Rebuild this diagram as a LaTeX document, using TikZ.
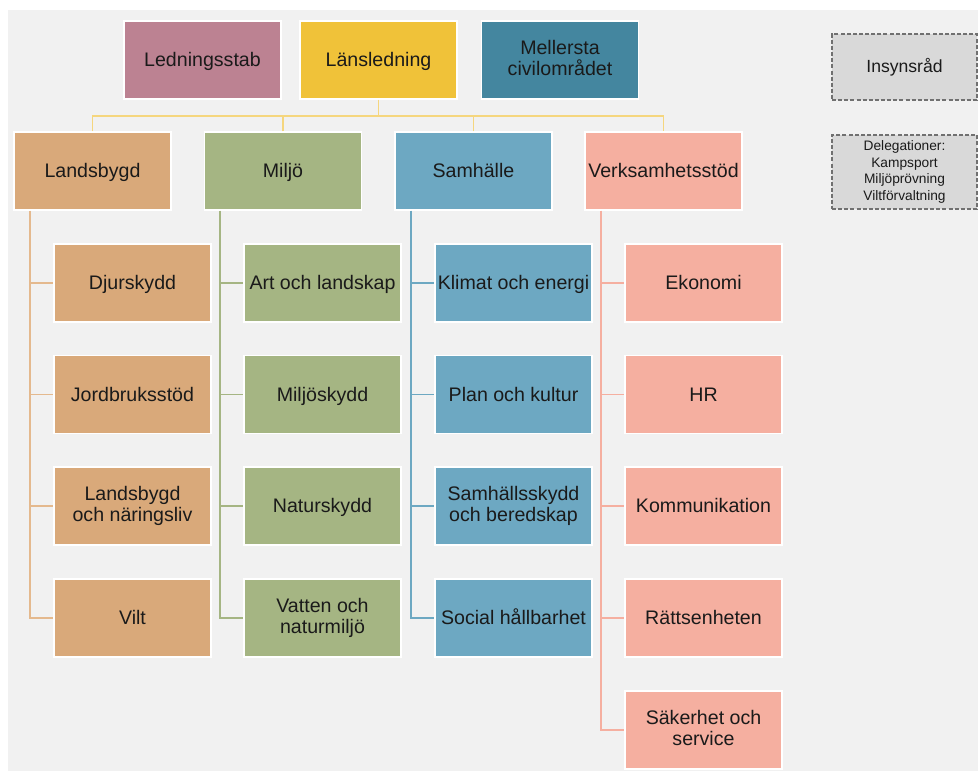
\documentclass[tikz,border=0pt]{standalone}
\usepackage{fontspec}
\setmainfont{Liberation Sans}
\definecolor{bg}{HTML}{F1F1F1}
\definecolor{cled}{HTML}{BC8292}
\definecolor{clans}{HTML}{F0C239}
\definecolor{cmel}{HTML}{44869F}
\definecolor{cland}{HTML}{D9A97A}
\definecolor{cmil}{HTML}{A5B583}
\definecolor{csam}{HTML}{6DA8C2}
\definecolor{cverk}{HTML}{F5AFA0}
\definecolor{ctop}{HTML}{F5D67E}
\definecolor{clandl}{HTML}{E4B98E}
\definecolor{cdash}{HTML}{D9D9D9}
\definecolor{cdashb}{HTML}{707070}
\definecolor{ctext}{HTML}{1A1A1A}
\newcommand\topstrut{\rule{0pt}{13.2pt}}
\newcommand\toptwostrut{\rule{0pt}{16.2pt}}
\newcommand\botstrut{\rule[-3.1pt]{0pt}{3.1pt}}
\newcommand\delstrut{\rule{0pt}{12.5pt}}
\begin{document}
\begin{tikzpicture}[x=0.75pt,y=-0.75pt,
  box/.style={draw=white,line width=1.1pt,minimum width=117.75pt,minimum height=58.5pt,
    inner sep=1pt,align=center,text=ctext,font=\fontsize{14.7}{15.4}\selectfont,
    execute at begin node=\topstrut, execute at end node=\botstrut},
  two/.style={execute at begin node=\toptwostrut},
  dbox/.style={draw=cdashb,fill=cdash,dash pattern=on 3pt off 1.6pt,line width=0.9pt,
    minimum width=108.75pt,inner sep=1pt,align=center,text=ctext},
  conn/.style={line width=1.1pt}]
\useasboundingbox (0,0) rectangle (978,771);
\fill[white] (0,0) rectangle (978,771);
\fill[bg] (8,10) rectangle (978,771);

% top row
\node[box,fill=cled] (led) at (202.5,60) {Ledningsstab};
\node[box,fill=clans] (lans) at (378.5,60) {Länsledning};
\node[box,two,fill=cmel] (mel) at (560,60) {Mellersta\\civilområdet};

% side boxes
\node[dbox,minimum height=49.5pt,font=\fontsize{13.2}{14}\selectfont] (ins) at (904.5,67) {Insynsråd};
\node[dbox,minimum height=55.5pt,font=\fontsize{10.3}{12.3}\selectfont,
  execute at begin node=\delstrut] (del) at (904.5,172) {Delegationer:\\Kampsport\\Miljöprövning\\Viltförvaltning};

% second row
\node[box,fill=cland] (land) at (92.5,171) {Landsbygd};
\node[box,fill=cmil] (milj) at (283,171) {Miljö};
\node[box,fill=csam] (samh) at (473.5,171) {Samhälle};
\node[box,fill=cverk] (verk) at (663.5,171) {Verksamhetsstöd};

% Landsbygd children
\node[box,fill=cland] (djur) at (132.5,283) {Djurskydd};
\node[box,fill=cland] (jord) at (132.5,394.5) {Jordbruksstöd};
\node[box,two,fill=cland] (lnar) at (132.5,506) {Landsbygd\\och näringsliv};
\node[box,fill=cland] (vilt) at (132.5,618) {Vilt};

% Miljö children
\node[box,fill=cmil] (art) at (322.5,283) {Art och landskap};
\node[box,fill=cmil] (mskydd) at (322.5,394.5) {Miljöskydd};
\node[box,fill=cmil] (nskydd) at (322.5,506) {Naturskydd};
\node[box,two,fill=cmil] (vatt) at (322.5,618) {Vatten och\\naturmiljö};

% Samhälle children
\node[box,fill=csam] (klim) at (513.5,283) {Klimat och energi};
\node[box,fill=csam] (plan) at (513.5,394.5) {Plan och kultur};
\node[box,two,fill=csam] (sskydd) at (513.5,506) {Samhällsskydd\\och beredskap};
\node[box,fill=csam] (soc) at (513.5,618) {Social hållbarhet};

% Verksamhetsstöd children
\node[box,fill=cverk] (eko) at (703.5,283) {Ekonomi};
\node[box,fill=cverk] (hr) at (703.5,394.5) {HR};
\node[box,fill=cverk] (komm) at (703.5,506) {Kommunikation};
\node[box,fill=cverk] (ratt) at (703.5,618) {Rättsenheten};
\node[box,two,fill=cverk] (sak) at (703.5,730) {Säkerhet och\\service};

% top connectors
\coordinate (bus) at (0,116);
\draw[conn,ctop] (lans.south) -- (lans.south |- bus);
\draw[conn,ctop] (land.north) -- (land.north |- bus) -- (verk.north |- bus) -- (verk.north);
\draw[conn,ctop] (milj.north) -- (milj.north |- bus);
\draw[conn,ctop] (samh.north) -- (samh.north |- bus);

% column spines
\coordinate (spL) at (30,0);
\coordinate (spM) at (220,0);
\coordinate (spS) at (411,0);
\coordinate (spV) at (601,0);

\draw[conn,clandl] (land.south -| spL) |- (vilt.west);
\foreach \n in {djur,jord,lnar} \draw[conn,clandl] (\n.west -| spL) -- (\n.west);

\draw[conn,cmil] (milj.south -| spM) |- (vatt.west);
\foreach \n in {art,mskydd,nskydd} \draw[conn,cmil] (\n.west -| spM) -- (\n.west);

\draw[conn,csam] (samh.south -| spS) |- (soc.west);
\foreach \n in {klim,plan,sskydd} \draw[conn,csam] (\n.west -| spS) -- (\n.west);

\draw[conn,cverk] (verk.south -| spV) |- (sak.west);
\foreach \n in {eko,hr,komm,ratt} \draw[conn,cverk] (\n.west -| spV) -- (\n.west);
\end{tikzpicture}
\end{document}
